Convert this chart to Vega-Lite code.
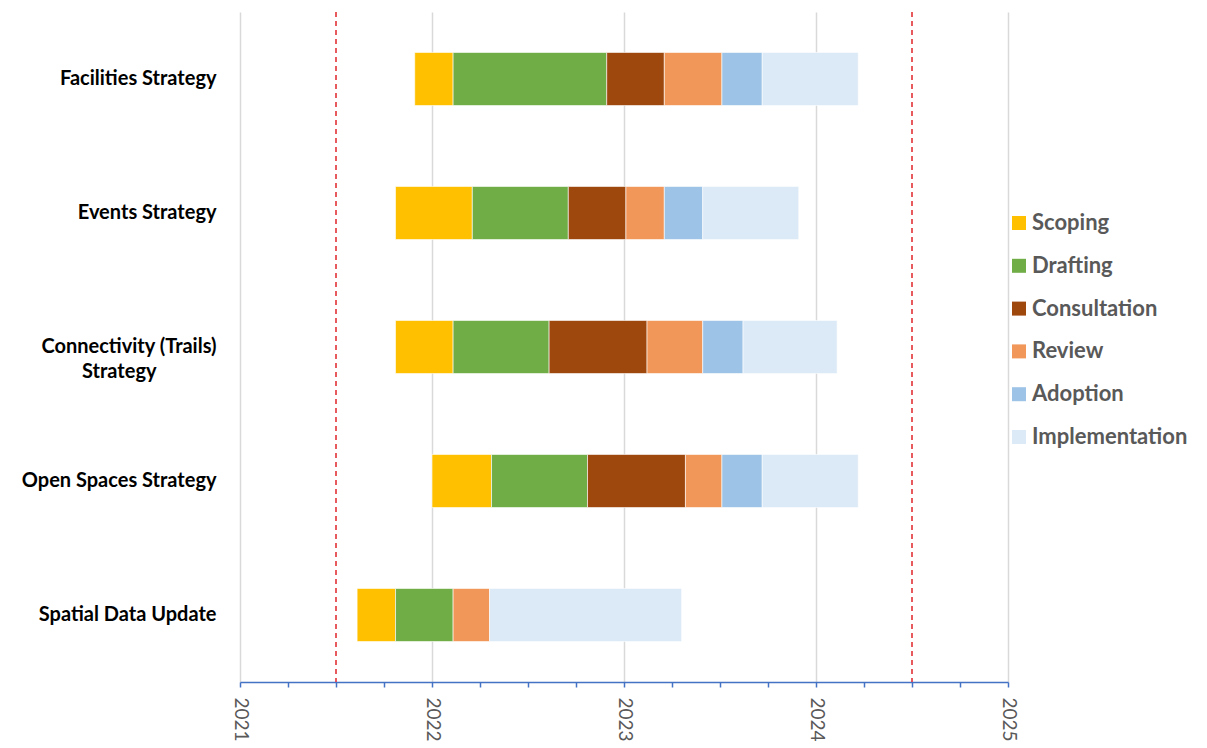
{
  "$schema": "https://vega.github.io/schema/vega-lite/v6.json",
  "width": 768,
  "height": 670,
  "autosize": {"type": "none"},
  "padding": {"left": 240, "top": 12, "right": 199, "bottom": 66},
  "background": "white",
  "config": {"view": {"stroke": null}, "font": "Lato"},
  "datasets": {
    "tasks": [
      {"task": "Facilities Strategy", "phase": "Scoping", "start": 2021.91, "end": 2022.11},
      {"task": "Facilities Strategy", "phase": "Drafting", "start": 2022.11, "end": 2022.91},
      {"task": "Facilities Strategy", "phase": "Consultation", "start": 2022.91, "end": 2023.21},
      {"task": "Facilities Strategy", "phase": "Review", "start": 2023.21, "end": 2023.51},
      {"task": "Facilities Strategy", "phase": "Adoption", "start": 2023.51, "end": 2023.72},
      {"task": "Facilities Strategy", "phase": "Implementation", "start": 2023.72, "end": 2024.22},
      {"task": "Events Strategy", "phase": "Scoping", "start": 2021.81, "end": 2022.21},
      {"task": "Events Strategy", "phase": "Drafting", "start": 2022.21, "end": 2022.71},
      {"task": "Events Strategy", "phase": "Consultation", "start": 2022.71, "end": 2023.01},
      {"task": "Events Strategy", "phase": "Review", "start": 2023.01, "end": 2023.21},
      {"task": "Events Strategy", "phase": "Adoption", "start": 2023.21, "end": 2023.41},
      {"task": "Events Strategy", "phase": "Implementation", "start": 2023.41, "end": 2023.91},
      {"task": "Connectivity (Trails) Strategy", "phase": "Scoping", "start": 2021.81, "end": 2022.11},
      {"task": "Connectivity (Trails) Strategy", "phase": "Drafting", "start": 2022.11, "end": 2022.61},
      {"task": "Connectivity (Trails) Strategy", "phase": "Consultation", "start": 2022.61, "end": 2023.12},
      {"task": "Connectivity (Trails) Strategy", "phase": "Review", "start": 2023.12, "end": 2023.41},
      {"task": "Connectivity (Trails) Strategy", "phase": "Adoption", "start": 2023.41, "end": 2023.62},
      {"task": "Connectivity (Trails) Strategy", "phase": "Implementation", "start": 2023.62, "end": 2024.11},
      {"task": "Open Spaces Strategy", "phase": "Scoping", "start": 2022.0, "end": 2022.31},
      {"task": "Open Spaces Strategy", "phase": "Drafting", "start": 2022.31, "end": 2022.81},
      {"task": "Open Spaces Strategy", "phase": "Consultation", "start": 2022.81, "end": 2023.32},
      {"task": "Open Spaces Strategy", "phase": "Review", "start": 2023.32, "end": 2023.51},
      {"task": "Open Spaces Strategy", "phase": "Adoption", "start": 2023.51, "end": 2023.72},
      {"task": "Open Spaces Strategy", "phase": "Implementation", "start": 2023.72, "end": 2024.22},
      {"task": "Spatial Data Update", "phase": "Scoping", "start": 2021.61, "end": 2021.81},
      {"task": "Spatial Data Update", "phase": "Drafting", "start": 2021.81, "end": 2022.11},
      {"task": "Spatial Data Update", "phase": "Review", "start": 2022.11, "end": 2022.3},
      {"task": "Spatial Data Update", "phase": "Implementation", "start": 2022.3, "end": 2023.3}
    ],
    "markers": [
      {"date": 2021.5},
      {"date": 2024.5}
    ]
  },
  "layer": [
    {
      "data": {"name": "tasks"},
      "mark": {"type": "bar", "stroke": "white", "strokeWidth": 0.6},
      "encoding": {
        "y": {
          "field": "task",
          "type": "nominal",
          "sort": ["Facilities Strategy", "Events Strategy", "Connectivity (Trails) Strategy", "Open Spaces Strategy", "Spatial Data Update"],
          "scale": {"paddingInner": 0.604, "paddingOuter": 0.302},
          "axis": {
            "title": null,
            "domain": false,
            "ticks": false,
            "labelPadding": 24,
            "labelFont": "Lato",
            "labelFontWeight": "bold",
            "labelFontSize": 20,
            "labelColor": "#000000",
            "labelLimit": 400,
            "labelLineHeight": 25,
            "labelExpr": "datum.value === 'Connectivity (Trails) Strategy' ? ['Connectivity (Trails)', 'Strategy\u2800\u2800\u2800\u2800'] : datum.label"
          }
        },
        "x": {
          "field": "start",
          "type": "quantitative",
          "scale": {"domain": [2021, 2025], "nice": false, "zero": false},
          "axis": {
            "title": null,
            "values": [2021, 2021.25, 2021.5, 2021.75, 2022, 2022.25, 2022.5, 2022.75, 2023, 2023.25, 2023.5, 2023.75, 2024, 2024.25, 2024.5, 2024.75, 2025],
            "labelExpr": "datum.value % 1 === 0 ? format(datum.value, 'd') : ''",
            "domainColor": "#4472c4",
            "domainWidth": 1.5,
            "tickColor": "#4472c4",
            "tickSize": 5,
            "tickWidth": 1.5,
            "labelAngle": 90,
            "labelColor": "#595959",
            "labelFont": "Lato",
            "labelFontSize": 19,
            "labelPadding": 10,
            "labelFlush": false,
            "labelOverlap": false,
            "gridColor": "#d9d9d9",
            "gridWidth": 1.5,
            "gridOpacity": {"condition": {"test": "datum.value % 1 === 0", "value": 1}, "value": 0}
          }
        },
        "x2": {"field": "end"},
        "color": {
          "field": "phase",
          "type": "nominal",
          "scale": {
            "domain": ["Scoping", "Drafting", "Consultation", "Review", "Adoption", "Implementation"],
            "range": ["#ffc000", "#70ad47", "#9e480e", "#f1975a", "#9dc3e6", "#dce9f6"]
          },
          "legend": {
            "title": null,
            "orient": "none",
            "legendX": 768,
            "legendY": 200,
            "padding": 0,
            "symbolType": "square",
            "symbolSize": 196,
            "symbolStrokeWidth": 0,
            "labelFont": "Lato",
            "labelFontSize": 22,
            "labelFontWeight": "bold",
            "labelColor": "#595959",
            "labelOffset": 2,
            "rowPadding": 20.8,
            "labelLimit": 300
          }
        }
      }
    },
    {
      "data": {"name": "markers"},
      "mark": {"type": "rule", "color": "#e0262b", "strokeDash": [5, 4], "strokeWidth": 1.5},
      "encoding": {
        "x": {"field": "date", "type": "quantitative"}
      }
    }
  ]
}
